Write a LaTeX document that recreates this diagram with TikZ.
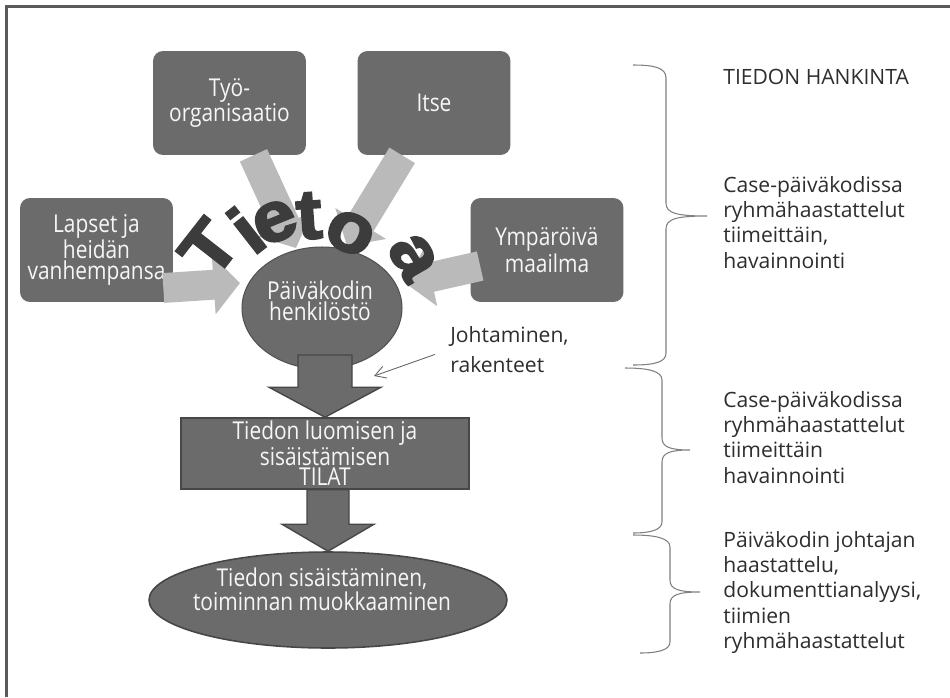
\documentclass[tikz,border=0pt]{standalone}
\usepackage{fontspec}
\setmainfont{Open Sans}
\newfontfamily\boxfont[FakeStretch=0.85]{Open Sans}
\newfontfamily\artfont[FakeBold=3,FakeStretch=1.1]{Liberation Sans}
\usetikzlibrary{arrows.meta,calc,shapes.geometric}

\definecolor{boxgray}{HTML}{6B6B6B}
\definecolor{edgegray}{HTML}{474747}
\definecolor{softgray}{HTML}{BABABA}
\definecolor{artgray}{HTML}{3C3C3C}
\definecolor{boxtext}{HTML}{F6F6F6}
\definecolor{notetext}{HTML}{2E2E2E}
\definecolor{bracegray}{HTML}{808080}
\definecolor{framegray}{HTML}{5A5A5A}

\newcommand\boxtxt{\boxfont\fontsize{14}{11.8}\selectfont}
\newcommand\notetxt{\fontsize{12}{14.35}\selectfont}
\newcommand\arttxt{\artfont\bfseries\fontsize{40}{40}\selectfont}

% block arrow: #1 start, #2 tip, #3 half shaft, #4 half head, #5 head length
\newcommand\blockarrow[5]{%
  \filldraw[blockarr] ($(#2 |- #1)+(-#3,0)$) -- ($(#2)+(-#3,-#5)$)
    -- ($(#2)+(-#4,-#5)$) -- (#2) -- ($(#2)+(#4,-#5)$)
    -- ($(#2)+(#3,-#5)$) -- ($(#2 |- #1)+(#3,0)$) -- cycle;}

\begin{document}
\begin{tikzpicture}[x=0.02cm, y=-0.02cm,
  box/.style={fill=boxgray, rounded corners=0.2cm, minimum width=3.06cm,
    minimum height=2.08cm, inner sep=0pt, text=boxtext, align=center, font=\boxtxt},
  softarrow/.style={draw=softgray, line width=17pt, -{Triangle[width=33pt,length=15pt]}},
  blockarr/.style={fill=boxgray, draw=edgegray, line width=0.8pt, line join=miter},
  note/.style={anchor=north west, inner sep=0pt, align=left, text=notetext, font=\notetxt},
  letter/.style={inner sep=0pt, text=artgray, font=\arttxt},
  bracepath/.style={draw=bracegray, line width=0.6pt},
  label/.style={inner sep=0pt, text=boxtext, align=center, font=\boxtxt}]

\useasboundingbox (0,0) rectangle (950,697);
\fill[white] (0,0) rectangle (950,697);

% frame
\draw[framegray, line width=1.2pt] (6.5,697) -- (6.5,6.5) -- (950,6.5);

% braces on the right
\draw[bracepath] (633,65) .. controls (655,65) and (666,68) .. (666,78) -- (666,203)
  .. controls (666,213) and (676,216) .. (707,216)
  .. controls (676,216) and (666,219) .. (666,229) -- (666,353)
  .. controls (666,362) and (655,365) .. (633,365);
\draw[bracepath] (625,368) .. controls (648,368) and (662,371) .. (662,380) -- (662,438)
  .. controls (662,447) and (670,450) .. (690,450)
  .. controls (670,450) and (662,453) .. (662,462) -- (662,522)
  .. controls (662,530) and (650,533) .. (633,533);
\draw[bracepath] (633,535) .. controls (655,535) and (670,538) .. (670,547) -- (670,580)
  .. controls (670,589) and (678,592) .. (700,592)
  .. controls (678,592) and (670,595) .. (670,604) -- (670,642)
  .. controls (670,650) and (658,653) .. (640,653);

% source boxes
\node[box] (tyo) at (229.5,103) {Työ-\\organisaatio};
\node[box] (itse) at (434,103) {Itse};
\node[box] (lapset) at (96.5,250) {Lapset ja\\heidän\\vanhempansa};
\node[box] (ymp) at (547,250) {Ympäröivä\\maailma};

% tips of the knowledge arrows
\coordinate (tipA) at (296,248);
\coordinate (tipB) at (347,246);
\coordinate (tipC) at (240,283);
\coordinate (tipD) at (405,283);

% knowledge arrows, under the staff node and the word
\draw[softarrow] (tyo) -- (tipA);
\draw[softarrow] (itse) -- (tipB);
\draw[softarrow] ([xshift=-0.2cm,yshift=-0.76cm]lapset.east) -- (tipC);
\draw[softarrow] ([xshift=0.2cm,yshift=-0.32cm]ymp.west) -- (tipD);

% staff
\node[ellipse, fill=boxgray, draw=edgegray!70!boxgray, line width=0.6pt,
  minimum width=3.2cm, minimum height=2.44cm, inner sep=0pt] (henk) at (322,308) {};

% arched word
\node[letter, rotate=52] (lT) at (209,248) {T};
\node[letter, rotate=38] (li) at (246,230) {i};
\node[letter, rotate=22] (le) at (275,222) {e};
\node[letter, rotate=4]  (lt) at (309,216) {t};
\node[letter, rotate=-24] (lo) at (350,233) {o};
\node[letter, rotate=-60] (la) at (413,257) {a};

\node[label] (henktxt) at (320,301) {Päiväkodin\\henkilöstö};

% spaces and outcome
\node[rectangle, fill=boxgray, draw=edgegray, line width=0.9pt, minimum width=5.76cm,
  minimum height=1.42cm, inner sep=0pt, text=boxtext, align=center,
  font=\boxfont\fontsize{14}{11.5}\selectfont]
  (tilat) at (325,453.5) {Tiedon luomisen ja\\sisäistämisen\\TILAT};
\node[ellipse, fill=boxgray, draw=edgegray, line width=0.9pt, minimum width=7.16cm,
  minimum height=1.92cm, inner sep=0pt] (tsis) at (328,600) {};
\node[label] (tsistxt) at (322,589) {Tiedon sisäistäminen,\\toiminnan muokkaaminen};

\coordinate (a1top) at (325,355);
\blockarrow{a1top}{tilat.north}{27}{56}{30}
\blockarrow{tilat.south}{tsis.north}{21}{46}{27}

% leadership note
\node[note, font=\fontsize{12}{17}\selectfont] (johto) at (450,326) {Johtaminen,\\rakenteet};
\coordinate (jtip) at (374,376);
\draw[bracegray!80!black, line width=0.5pt, -{Straight Barb[length=6pt,width=7pt]}]
  ([xshift=-0.3cm,yshift=-0.1cm]johto.west) -- (jtip);

% method notes
\node[note] (hank) at (723,69) {TIEDON HANKINTA};
\node[note] (m1) at (723,176) {Case-päiväkodissa\\ryhmähaastattelut\\tiimeittäin,\\havainnointi};
\node[note] (m2) at (723,391) {Case-päiväkodissa\\ryhmähaastattelut\\tiimeittäin\\havainnointi};
\node[note] (m3) at (723,531) {Päiväkodin johtajan\\haastattelu,\\dokumenttianalyysi,\\tiimien\\ryhmähaastattelut};
\end{tikzpicture}
\end{document}
